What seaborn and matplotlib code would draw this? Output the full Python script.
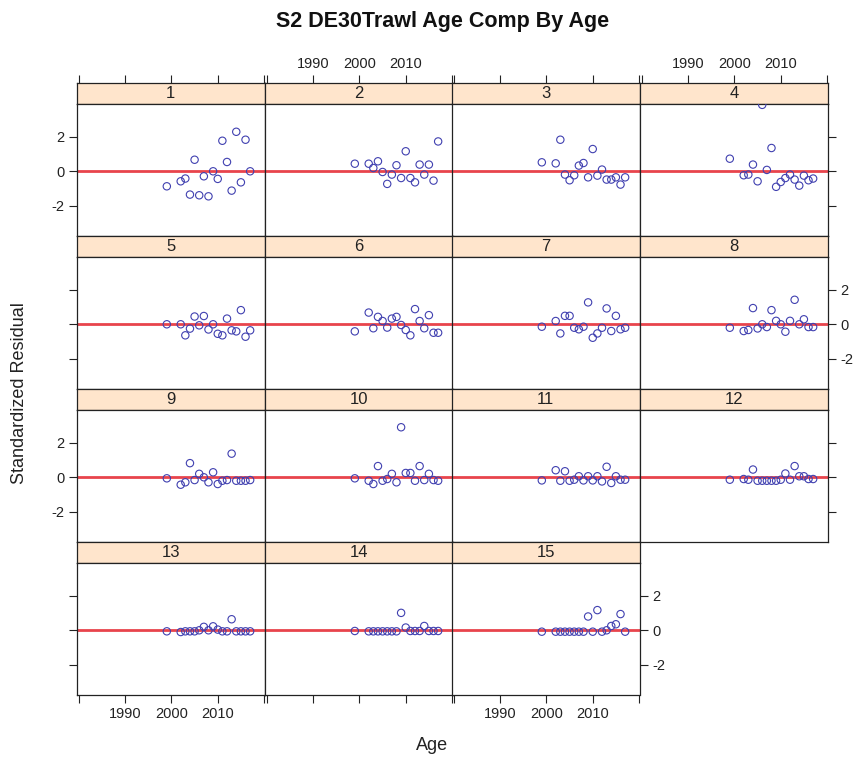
import numpy as np
import pandas as pd
import matplotlib
matplotlib.use("Agg")
import matplotlib.pyplot as plt
import seaborn as sns

# --- Data ---
years = [1999, 2002, 2003, 2004, 2005, 2006, 2007, 2008, 2009,
         2010, 2011, 2012, 2013, 2014, 2015, 2016, 2017]

age_1 = [-0.87, -0.58, -0.42, -1.35, 0.67, -1.39, -0.29, -1.45, 0.0,
         -0.44, 1.77, 0.54, -1.12, 2.29, -0.64, 1.83, 0.0]
age_2 = [0.44, 0.44, 0.19, 0.58, -0.04, -0.73, -0.19, 0.35, -0.39,
         1.16, -0.39, -0.64, 0.39, -0.19, 0.39, -0.54, 1.73]
age_3 = [0.52, 0.46, 1.83, -0.19, -0.52, -0.23, 0.33, 0.48, -0.35,
         1.29, -0.25, 0.10, -0.48, -0.48, -0.35, -0.77, -0.35]
age_4 = [0.73, -0.23, -0.19, 0.39, -0.58, 3.85, 0.08, 1.35, -0.90,
         -0.62, -0.39, -0.19, -0.48, -0.83, -0.25, -0.52, -0.42]
age_5 = [0.0, 0.0, -0.64, -0.25, 0.45, -0.06, 0.48, -0.30, 0.0,
         -0.55, -0.64, 0.33, -0.35, -0.41, 0.82, -0.72, -0.35]
age_6 = [-0.41, 0.68, -0.23, 0.43, 0.19, -0.19, 0.33, 0.43, -0.04,
         -0.33, -0.64, 0.88, 0.19, -0.23, 0.53, -0.49, -0.49]
age_7 = [-0.14, 0.19, -0.53, 0.49, 0.49, -0.20, -0.29, -0.14, 1.27,
         -0.78, -0.53, -0.20, 0.92, -0.39, 0.49, -0.29, -0.20]
age_8 = [-0.20, -0.39, -0.33, 0.94, -0.24, 0.0, -0.16, 0.82, 0.20,
         0.0, -0.43, 0.20, 1.42, 0.0, 0.29, -0.16, -0.16]
age_9 = [-0.06, -0.43, -0.29, 0.82, -0.16, 0.20, 0.0, -0.29, 0.29,
         -0.39, -0.20, -0.16, 1.37, -0.20, -0.20, -0.20, -0.16]
age_10 = [-0.06, -0.20, -0.39, 0.65, -0.20, -0.10, 0.20, -0.29, 2.90,
          0.25, 0.25, -0.20, 0.65, -0.16, 0.20, -0.16, -0.20]
age_11 = [-0.18, 0.41, -0.20, 0.35, -0.20, -0.14, 0.06, -0.18, 0.06,
          -0.18, 0.06, -0.24, 0.61, -0.33, 0.06, -0.14, -0.14]
age_12 = [-0.14, -0.10, -0.14, 0.45, -0.20, -0.20, -0.20, -0.20, -0.20,
          -0.14, 0.22, -0.14, 0.65, 0.06, 0.06, -0.10, -0.10]
age_13 = [-0.06, -0.10, -0.06, -0.06, -0.06, 0.0, 0.20, 0.0, 0.23,
          0.04, -0.06, -0.06, 0.64, -0.06, -0.06, -0.06, -0.06]
age_14 = [-0.04, -0.06, -0.06, -0.06, -0.06, -0.06, -0.06, -0.06, 1.01,
          0.16, -0.04, -0.04, -0.04, 0.25, -0.04, -0.04, -0.04]
age_15 = [-0.08, -0.08, -0.08, -0.08, -0.08, -0.08, -0.08, -0.08, 0.80,
          -0.08, 1.17, -0.08, 0.0, 0.25, 0.35, 0.94, -0.08]

ages = list(range(1, 16))
resids = [age_1, age_2, age_3, age_4, age_5, age_6, age_7, age_8,
          age_9, age_10, age_11, age_12, age_13, age_14, age_15]

x_ticks = [1980, 1990, 2000, 2010, 2020]
x_ticklabels = ['', '1990', '2000', '2010', '']
y_ticks = [-2, 0, 2]

# --- Style ---
sns.set_theme(style="white")
plt.rcParams['font.family'] = ['Liberation Sans', 'DejaVu Sans']

PT_COLOR = '#4040b0'
LINE_COLOR = '#e8444c'
STRIP_COLOR = '#ffe5cc'
FRAME = '#222222'
TICK_FS = 10.5

W, H = 857, 759
fig = plt.figure(figsize=(W / 100, H / 100), dpi=100)

col_x = [77, 265, 452, 640]
pw = 187.5
row_top = [83, 236, 389, 542]
strip_h = 21
body_h = 132
last_row = {0: 3, 1: 3, 2: 3, 3: 2}


def style_frame(ax):
    for sp in ax.spines.values():
        sp.set_visible(True)
        sp.set_color(FRAME)
        sp.set_linewidth(0.9)


for i, (age, vals) in enumerate(zip(ages, resids)):
    r, c = divmod(i, 4)
    x0 = col_x[c]
    top = row_top[r]

    # strip
    sax = fig.add_axes([x0 / W, 1 - (top + strip_h) / H, pw / W, strip_h / H])
    sax.set_facecolor(STRIP_COLOR)
    sax.set_xticks([])
    sax.set_yticks([])
    style_frame(sax)
    sax.text(0.5, 0.5, str(age), ha='center', va='center', fontsize=12,
             transform=sax.transAxes, color='#222222')

    # panel body
    ax = fig.add_axes([x0 / W, 1 - (top + strip_h + body_h) / H, pw / W, body_h / H])
    ax.axhline(0, color=LINE_COLOR, lw=2, zorder=1)
    df = pd.DataFrame({'year': years, 'resid': vals})
    sns.scatterplot(data=df, x='year', y='resid', ax=ax, s=28, zorder=3)
    coll = ax.collections[-1]
    coll.set_facecolor('none')
    coll.set_edgecolor(PT_COLOR)
    coll.set_linewidth(0.8)

    ax.set_xlim(1979.6, 2020.1)
    ax.set_ylim(-3.75, 3.9)
    ax.set_xlabel('')
    ax.set_ylabel('')
    ax.set_facecolor('white')
    style_frame(ax)

    ax.set_xticks(x_ticks)
    ax.set_xticklabels(x_ticklabels)
    ax.set_yticks(y_ticks)
    ax.set_yticklabels([str(v) for v in y_ticks])

    is_bottom = (r == 3)
    is_left = (c == 0)
    is_right = (c == last_row[r])

    ax.tick_params(axis='both', which='both', direction='out', length=6,
                   width=0.8, color=FRAME, labelsize=TICK_FS, labelcolor='#222222',
                   pad=3,
                   bottom=is_bottom, labelbottom=is_bottom and c in (0, 2),
                   left=is_left, labelleft=is_left and r in (0, 2),
                   right=is_right, labelright=is_right and r in (1, 3),
                   top=False, labeltop=False)

    # top axis ticks belong to the strip of the first row
    if r == 0:
        sax.set_xlim(1979.6, 2020.1)
        sax.set_xticks(x_ticks)
        sax.set_xticklabels(x_ticklabels)
        sax.tick_params(axis='x', direction='out', length=6, width=0.8,
                        color=FRAME, labelsize=TICK_FS, labelcolor='#222222', pad=3,
                        top=True, labeltop=c in (1, 3),
                        bottom=False, labelbottom=False)

fig.text(443 / W, 1 - 22 / H, 'S2 DE30Trawl Age Comp By Age', ha='center',
         va='center', fontsize=15.5, fontweight='bold', color='#111111')
fig.text(20 / W, 1 - 393 / H, 'Standardized Residual', rotation=90,
         ha='center', va='center', fontsize=13, color='#222222')
fig.text(432 / W, 1 - 745 / H, 'Age', ha='center', va='center',
         fontsize=13, color='#222222')

fig.savefig('out.png', dpi=100)
